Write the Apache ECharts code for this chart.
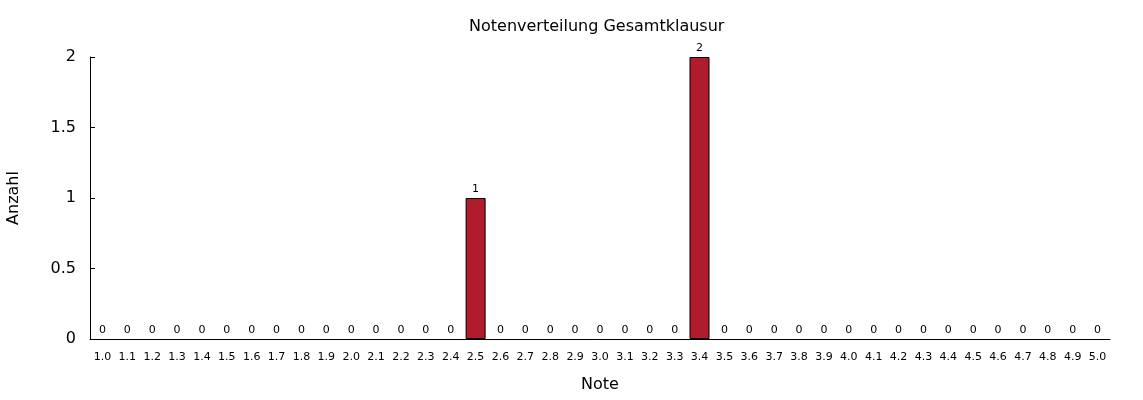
<!DOCTYPE html>
<html>
<head>
<meta charset="utf-8">
<script src="https://cdn.jsdelivr.net/npm/echarts@6/dist/echarts.min.js"></script>
<style>html,body{margin:0;padding:0;background:#fff;}#c{width:1143px;height:400px;}</style>
</head>
<body>
<div id="c"></div>
<script>
const categories = ["1.0","1.1","1.2","1.3","1.4","1.5","1.6","1.7","1.8","1.9","2.0","2.1","2.2","2.3","2.4","2.5","2.6","2.7","2.8","2.9","3.0","3.1","3.2","3.3","3.4","3.5","3.6","3.7","3.8","3.9","4.0","4.1","4.2","4.3","4.4","4.5","4.6","4.7","4.8","4.9","5.0"];
const counts = [0,0,0,0,0,0,0,0,0,0,0,0,0,0,0,1,0,0,0,0,0,0,0,0,2,0,0,0,0,0,0,0,0,0,0,0,0,0,0,0,0];
const titleText = "Notenverteilung Gesamtklausur";
const xName = "Note";
const yName = "Anzahl";

const font = "DejaVu Sans";
const barData = counts.map(v => v === 0 ? {value: v, itemStyle: {borderWidth: 0}} : v);
const chart = echarts.init(document.getElementById('c'), null, {renderer:'canvas'});
chart.setOption({
  animation: false,
  backgroundColor: '#fff',
  title: {
    text: titleText, left: 464, top: 14,
    textStyle: {fontFamily: font, fontSize: 16, fontWeight: 'normal', color: '#000'}
  },
  grid: {left: 90, right: 33, top: 57, bottom: 61, containLabel: false, outerBoundsMode: 'none'},
  xAxis: {
    type: 'category', data: categories, z: 5,
    name: xName, nameLocation: 'middle', nameGap: 38,
    nameTextStyle: {fontFamily: font, fontSize: 16, color: '#000'},
    axisLine: {lineStyle: {color: '#000', width: 1}},
    axisTick: {inside: true, alignWithLabel: true, length: 4, lineStyle: {color: '#000'}},
    axisLabel: {fontFamily: font, fontSize: 11, color: '#000', margin: 13, interval: 0}
  },
  yAxis: {
    type: 'value', min: 0, max: 2, interval: 0.5,
    name: yName, nameLocation: 'middle', nameGap: 68,
    nameTextStyle: {fontFamily: font, fontSize: 16, color: '#000'},
    axisLine: {show: true, lineStyle: {color: '#000', width: 1}},
    axisTick: {show: true, inside: true, length: 5, lineStyle: {color: '#000'}},
    axisLabel: {fontFamily: font, fontSize: 16, color: '#000', margin: 14},
    splitLine: {show: false}
  },
  series: [{
    type: 'bar', data: barData, barWidth: 20,
    itemStyle: {color: '#b01c2e', borderColor: '#000', borderWidth: 1},
    label: {show: true, position: 'top', distance: 3, fontFamily: font, fontSize: 11, color: '#000'}
  }]
});
</script>
</body>
</html>
